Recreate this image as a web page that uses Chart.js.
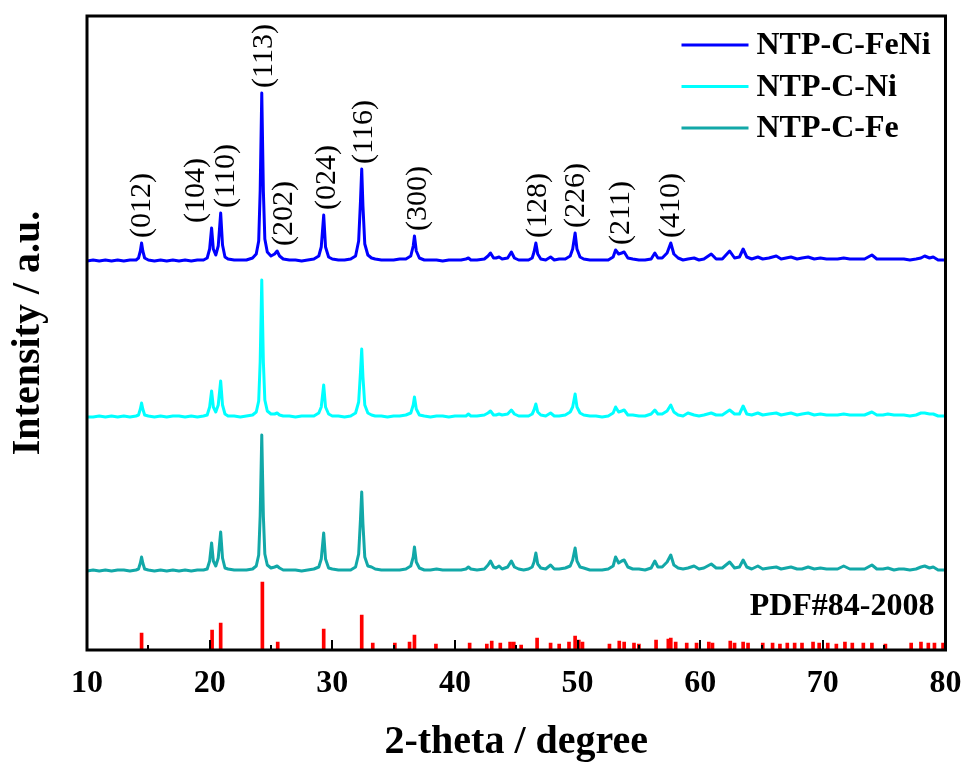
<!DOCTYPE html>
<html><head><meta charset="utf-8">
<script src="https://cdn.jsdelivr.net/npm/chart.js@4.4.0/dist/chart.umd.min.js"></script>
<style>html,body{margin:0;padding:0;background:#fff}#wrap{width:965px;height:764px}</style>
</head><body><div id="wrap"><canvas id="c" width="965" height="764"></canvas></div>
<script>
// 2-theta grid shared by the three measured patterns
const twoTheta = [
 10.0,10.5,11.0,11.5,12.0,12.5,13.0,13.5,14.0,14.2,
 14.35,14.45,14.55,14.7,15.0,15.5,16.0,16.5,17.0,17.5,
 18.0,18.5,19.0,19.5,19.8,20.0,20.16,20.3,20.5,20.7,
 20.9,21.05,21.25,21.5,22.0,22.5,23.0,23.5,23.8,24.0,
 24.12,24.25,24.38,24.5,24.7,25.0,25.3,25.5,25.7,26.0,
 26.5,27.0,27.5,28.0,28.5,28.9,29.1,29.3,29.45,29.7,
 30.0,30.5,31.0,31.5,31.9,32.15,32.3,32.4,32.5,32.65,
 32.9,33.2,33.5,34.0,34.5,35.0,35.5,36.0,36.4,36.6,
 36.7,36.85,37.1,37.5,38.0,38.5,39.0,39.5,40.0,40.5,
 40.9,41.1,41.3,41.8,42.4,42.7,42.9,43.15,43.35,43.6,
 43.85,44.3,44.6,44.85,45.2,45.6,46.0,46.3,46.45,46.6,
 46.75,47.0,47.4,47.8,48.1,48.5,49.0,49.4,49.6,49.8,
 49.95,50.2,50.5,51.0,51.5,52.0,52.5,52.9,53.1,53.35,
 53.6,53.8,54.1,54.5,55.0,55.5,56.0,56.3,56.55,56.9,
 57.3,57.6,57.85,58.2,58.6,59.0,59.5,59.9,60.3,60.9,
 61.3,61.8,62.4,62.8,63.2,63.5,63.8,64.2,64.7,65.1,
 65.6,66.2,66.6,67.0,67.4,67.9,68.3,68.8,69.3,69.8,
 70.3,70.8,71.2,71.7,72.2,72.8,73.4,74.0,74.4,74.9,
 75.3,75.8,76.2,76.6,77.1,77.6,78.0,78.3,78.7,79.0,
 79.4,80.0
];
const feNiIntensity = [
 0,1,0,1,0,1,0,1,1,3,
 10,18,10,3,1,0,1,0,1,0,
 1,0,1,1,3,12,33,12,6,15,
 48,16,4,2,1,1,1,3,7,20,
 70,168,70,22,9,5,7,10,5,2,
 1,1,0,1,2,5,14,46,14,4,
 2,1,1,2,5,20,60,92,55,17,
 6,3,2,1,1,1,2,2,5,15,
 25,10,3,1,1,1,0,1,1,1,
 2,3,1,1,2,5,8,3,3,4,
 2,3,9,3,1,1,1,3,9,18,
 7,2,1,4,1,2,2,5,12,28,
 12,4,2,1,1,1,1,4,11,7,
 8,9,3,2,1,1,2,8,3,3,
 8,18,7,3,1,2,3,1,2,7,
 2,2,10,3,4,12,4,2,4,2,
 3,5,2,3,4,2,3,4,2,3,
 2,2,2,3,2,2,2,6,2,2,
 2,2,2,2,1,2,3,5,3,4,
 1,1
];
const niIntensity = [
 0,0,1,0,1,0,1,0,1,2,
 8,14,8,2,1,0,1,0,1,1,
 0,1,0,1,2,10,26,10,5,12,
 36,12,3,1,1,0,1,2,5,16,
 55,137,55,17,6,3,3,4,2,1,
 1,0,1,1,1,4,10,32,10,3,
 1,1,0,1,4,15,45,68,40,12,
 4,2,1,1,0,1,1,2,4,12,
 20,8,2,1,0,1,1,0,1,1,
 1,3,1,1,2,4,6,2,2,3,
 2,3,7,3,1,1,1,3,7,13,
 5,2,1,4,1,1,2,5,10,23,
 10,4,2,1,1,0,1,4,10,5,
 6,7,2,2,1,1,3,7,3,3,
 6,12,5,2,1,4,2,1,2,4,
 2,2,7,3,3,11,3,2,4,2,
 3,4,2,3,4,2,3,4,2,3,
 2,2,2,3,2,2,2,5,2,2,
 3,2,2,2,1,2,4,4,3,3,
 1,1
];
const feIntensity = [
 0,1,0,1,0,1,1,0,1,2,
 8,14,8,2,1,0,1,0,1,0,
 1,0,1,1,2,10,28,10,5,13,
 39,13,3,2,1,1,1,2,5,16,
 55,136,55,17,6,3,4,5,3,1,
 1,1,0,1,2,4,12,38,12,3,
 2,1,1,1,4,17,52,79,47,14,
 5,4,2,1,1,1,1,2,5,14,
 24,9,3,1,1,2,1,1,1,1,
 2,4,2,1,2,6,10,4,3,5,
 2,4,10,4,2,1,2,4,9,18,
 7,3,2,6,2,2,3,5,11,23,
 10,4,3,1,1,1,2,5,14,8,
 10,11,4,2,2,1,3,10,4,4,
 9,16,6,3,2,3,5,2,3,7,
 3,3,9,3,4,11,4,2,5,2,
 3,4,2,3,4,2,2,4,2,3,
 2,2,2,5,2,2,2,6,2,2,
 3,1,2,2,1,2,4,5,3,4,
 1,1
];
const seriesNames = ['NTP-C-FeNi', 'NTP-C-Ni', 'NTP-C-Fe'];
const seriesOffsets = [389, 233, 79];

// Standard card PDF#84-2008 stick pattern
const pdfTheta = [
 14.45,20.2,20.9,24.3,25.55,29.3,32.4,33.3,35.1,36.3,
 36.7,38.45,41.2,42.6,43.0,43.7,44.5,44.8,45.4,46.7,
 47.8,48.5,49.3,49.8,50.1,50.4,52.6,53.4,53.8,54.6,
 55.0,56.4,57.4,57.6,58.0,58.9,59.7,60.7,61.0,62.45,
 62.8,63.5,63.9,65.1,65.9,66.5,67.1,67.7,68.3,69.2,
 69.7,70.4,71.1,71.8,72.4,73.3,74.0,75.1,77.2,78.0,
 78.6,79.1,79.8
];
const pdfIntensity = [
 17,20,27,68,8,21,35,7,7,8,
 15,6,7,6,9,7,8,8,5,12,
 7,6,8,14,10,8,6,9,8,7,
 6,10,11,12,8,7,7,8,7,9,
 7,8,7,7,7,6,7,7,7,8,
 7,7,6,8,7,7,7,6,7,8,
 7,7,7
];
const pdfLabel = 'PDF#84-2008';

// Miller index annotations
const hklLabels = ['(012)','(104)','(110)','(113)','(202)','(024)','(116)','(300)','(128)','(226)','(211)','(410)'];
const hklPeakTheta = [14.45,20.16,20.9,24.25,25.5,29.3,32.4,36.7,46.6,49.8,53.1,57.6];
const hklLabelTheta = [14.53,18.86,21.31,24.41,26.04,29.55,32.57,36.98,46.78,49.88,53.55,57.63];

const xMin = 10, xMax = 80, xStep = 10, xMinorStep = 5;
const xTitle = '2-theta / degree';
const yTitle = 'Intensity / a.u.';

const colors = ['#0000ff', '#00ffff', '#12a8a8'];
const FONT = '"Liberation Serif", "Times New Roman", serif';
const seriesValues = [feNiIntensity, niIntensity, feIntensity];

const lineSets = seriesNames.map((name, k) => ({
  type: 'line',
  label: name,
  data: twoTheta.map((t, i) => ({x: t, y: seriesValues[k][i] + seriesOffsets[k]})),
  borderColor: colors[k],
  backgroundColor: colors[k],
  borderWidth: 3,
  pointRadius: 0,
  tension: 0,
  borderJoinStyle: 'round',
  fill: false
}));
const barSet = {
  type: 'bar',
  label: pdfLabel,
  data: pdfTheta.map((t, i) => ({x: t, y: pdfIntensity[i]})),
  backgroundColor: '#ff0000',
  borderWidth: 0,
  barThickness: 3,
  grouped: false
};

const decor = {
  id: 'decor',
  afterDatasetsDraw(chart) {
    const {ctx, chartArea: a, scales: {x, y}} = chart;
    ctx.save();
    // hkl labels
    ctx.fillStyle = '#000';
    ctx.font = '30px ' + FONT;
    ctx.textAlign = 'left';
    ctx.textBaseline = 'middle';
    hklLabels.forEach((lab, i) => {
      let m = -Infinity;
      twoTheta.forEach((t, j) => { if (Math.abs(t - hklPeakTheta[i]) < 0.3) m = Math.max(m, feNiIntensity[j]); });
      const py = y.getPixelForValue(m + seriesOffsets[0]) - 5;
      const px = x.getPixelForValue(hklLabelTheta[i]);
      ctx.save(); ctx.translate(px, py); ctx.rotate(-Math.PI / 2); ctx.fillText(lab, 0, 0); ctx.restore();
    });
    // legend
    ctx.font = 'bold 32px ' + FONT;
    seriesNames.forEach((name, i) => {
      const ly = a.top + 29 + i * 41.5;
      ctx.strokeStyle = colors[i];
      ctx.lineWidth = 3;
      ctx.beginPath(); ctx.moveTo(a.right - 264, ly); ctx.lineTo(a.right - 197, ly); ctx.stroke();
      ctx.fillStyle = '#000';
      ctx.fillText(name, a.right - 189, ly + 1);
    });
    // PDF label
    ctx.textAlign = 'right';
    ctx.fillText(pdfLabel, a.right - 11, 607);
    ctx.restore();
  },
  afterDraw(chart) {
    const {ctx, chartArea: a, scales: {x}} = chart;
    ctx.save();
    ctx.strokeStyle = '#000';
    // inward ticks on bottom axis
    ctx.lineWidth = 2;
    for (let v = xMin; v <= xMax; v += xMinorStep) {
      const px = Math.round(x.getPixelForValue(v));
      const len = (v % xStep === 0) ? 10 : 5;
      ctx.beginPath(); ctx.moveTo(px, a.bottom); ctx.lineTo(px, a.bottom - len); ctx.stroke();
    }
    ctx.lineWidth = 3;
    ctx.strokeRect(a.left, a.top, a.right - a.left, a.bottom - a.top);
    ctx.restore();
  }
};

new Chart(document.getElementById('c'), {
  type: 'line',
  data: {datasets: [...lineSets, barSet]},
  options: {
    responsive: false,
    animation: false,
    devicePixelRatio: 1,
    layout: {padding: {top: 16, right: 19.5, bottom: 0, left: 0}},
    plugins: {legend: {display: false}, tooltip: {enabled: false}},
    scales: {
      x: {
        type: 'linear', min: xMin, max: xMax, offset: false,
        grid: {display: false, drawTicks: false}, border: {display: false},
        ticks: {stepSize: xStep, color: '#000', font: {family: FONT, size: 32, weight: 'bold'}, padding: 15, maxRotation: 0, autoSkip: false},
        title: {display: true, text: xTitle, color: '#000', font: {family: FONT, size: 40, weight: 'bold'}, padding: {top: 0, bottom: -3}},
        afterFit(s) { s.height = 114; s.paddingLeft = 0; s.paddingRight = 0; }
      },
      y: {
        type: 'linear', min: 0, max: 634,
        grid: {display: false, drawTicks: false}, border: {display: false},
        ticks: {display: false},
        title: {display: true, text: yTitle, color: '#000', font: {family: FONT, size: 40, weight: 'bold'}, padding: {top: 5, bottom: 0}},
        afterFit(s) { s.width = 87; }
      }
    }
  },
  plugins: [decor]
});
</script>
</body></html>
